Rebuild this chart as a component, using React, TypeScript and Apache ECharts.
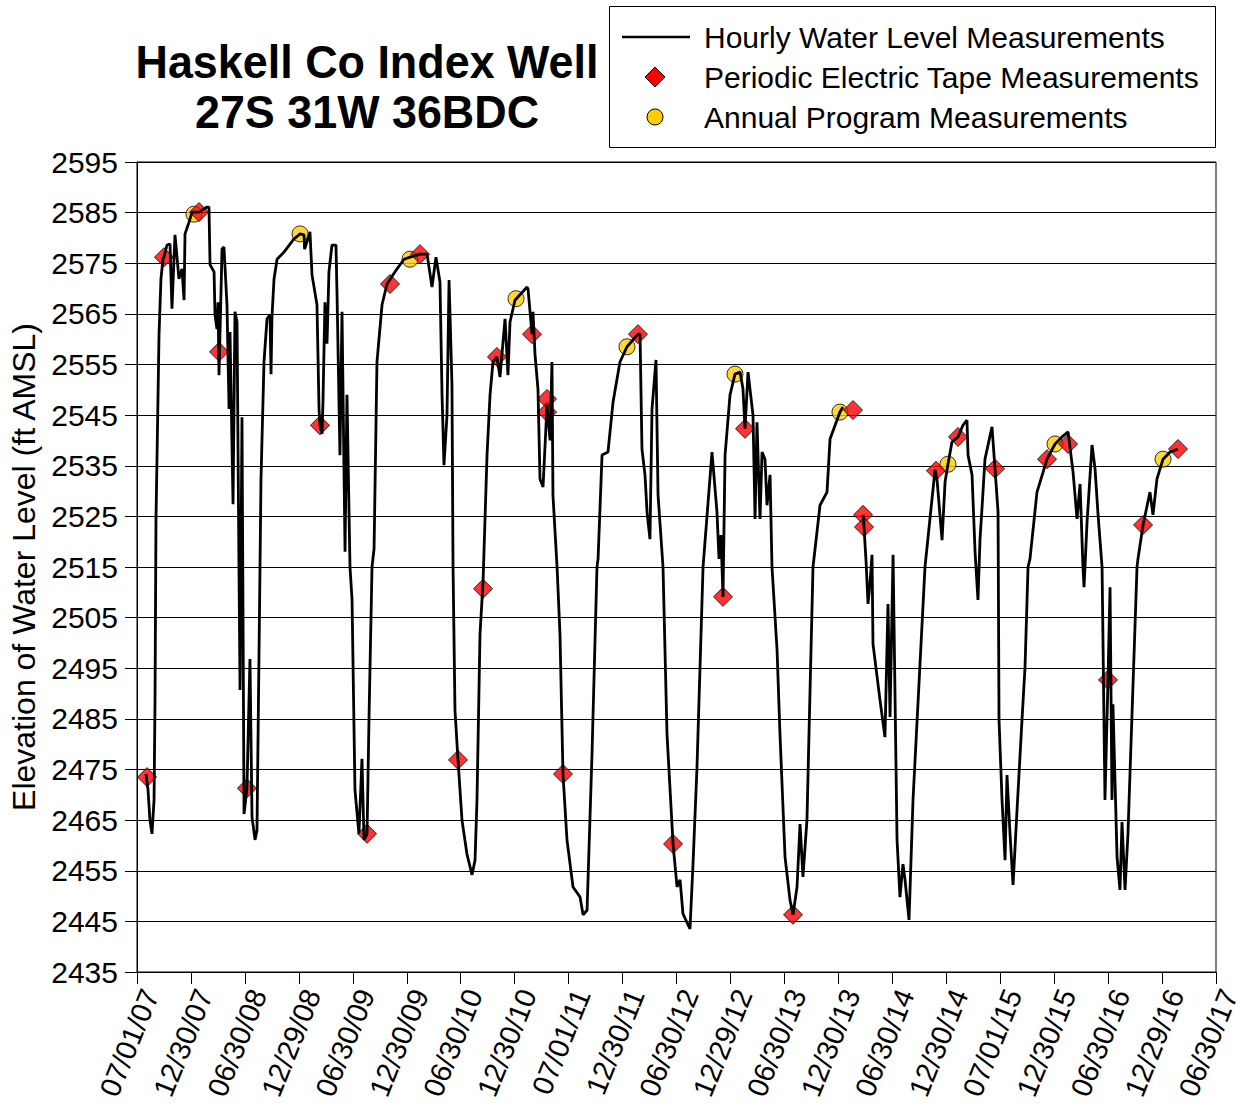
import React, { useEffect, useRef } from "react";
import * as echarts from "echarts";

// x values are years elapsed since 07/01/2007
const xTickLabels = [
  "07/01/07", "12/30/07", "06/30/08", "12/29/08", "06/30/09", "12/30/09", "06/30/10",
  "12/30/10", "07/01/11", "12/30/11", "06/30/12", "12/29/12", "06/30/13", "12/30/13",
  "06/30/14", "12/30/14", "07/01/15", "12/30/15", "06/30/16", "12/29/16", "06/30/17",
];

const hourlyX = [
  0.083, 0.102, 0.12, 0.139, 0.158, 0.167, 0.176, 0.195, 0.204, 0.222, 0.241, 0.25, 0.278, 0.306, 0.324,
  0.352, 0.389, 0.417, 0.436, 0.445, 0.482, 0.51, 0.575, 0.649, 0.667, 0.677, 0.714, 0.723, 0.741, 0.751,
  0.76, 0.788, 0.806, 0.834, 0.853, 0.862, 0.89, 0.908, 0.927, 0.945, 0.955, 0.973, 0.992, 1.019, 1.047,
  1.066, 1.094, 1.112, 1.14, 1.149, 1.177, 1.205, 1.233, 1.242, 1.251, 1.27, 1.298, 1.362, 1.455, 1.511,
  1.548, 1.553, 1.566, 1.603, 1.622, 1.668, 1.687, 1.696, 1.715, 1.724, 1.742, 1.761, 1.779, 1.807, 1.844,
  1.854, 1.881, 1.9, 1.928, 1.946, 1.974, 1.993, 2.02, 2.057, 2.085, 2.104, 2.132, 2.15, 2.178, 2.197,
  2.224, 2.271, 2.317, 2.41, 2.475, 2.53, 2.623, 2.688, 2.734, 2.771, 2.808, 2.827, 2.845, 2.873, 2.892,
  2.919, 2.929, 2.947, 2.975, 3.012, 3.058, 3.105, 3.133, 3.151, 3.179, 3.207, 3.244, 3.272, 3.299, 3.336,
  3.364, 3.411, 3.438, 3.457, 3.503, 3.615, 3.624, 3.661, 3.67, 3.689, 3.716, 3.735, 3.763, 3.8, 3.828,
  3.846, 3.855, 3.893, 3.92, 3.948, 3.985, 4.041, 4.106, 4.134, 4.171, 4.217, 4.263, 4.273, 4.31, 4.365,
  4.412, 4.476, 4.541, 4.643, 4.662, 4.68, 4.708, 4.727, 4.754, 4.773, 4.81, 4.829, 4.875, 4.912, 4.968,
  5.005, 5.033, 5.06, 5.125, 5.153, 5.19, 5.246, 5.329, 5.375, 5.394, 5.412, 5.431, 5.45, 5.496, 5.542,
  5.589, 5.616, 5.635, 5.663, 5.709, 5.728, 5.746, 5.774, 5.793, 5.82, 5.839, 5.867, 5.885, 5.932, 5.959,
  6.006, 6.052, 6.08, 6.117, 6.145, 6.172, 6.209, 6.265, 6.33, 6.395, 6.423, 6.515, 6.543, 6.64, 6.729,
  6.738, 6.757, 6.775, 6.794, 6.812, 6.821, 6.886, 6.932, 6.96, 6.979, 7.007, 7.044, 7.071, 7.099, 7.118,
  7.155, 7.192, 7.303, 7.349, 7.396, 7.414, 7.461, 7.489, 7.516, 7.553, 7.609, 7.655, 7.692, 7.702, 7.739,
  7.767, 7.794, 7.813, 7.831, 7.859, 7.924, 7.952, 7.98, 7.989, 8.017, 8.045, 8.063, 8.091, 8.119, 8.156,
  8.202, 8.23, 8.258, 8.276, 8.341, 8.434, 8.508, 8.573, 8.629, 8.675, 8.712, 8.74, 8.767, 8.777, 8.805,
  8.851, 8.879, 8.907, 8.944, 8.953, 8.971, 8.999, 9.018, 9.036, 9.045, 9.083, 9.11, 9.129, 9.157, 9.184,
  9.268, 9.277, 9.324, 9.388, 9.416, 9.453, 9.509, 9.574, 9.648,
];

const hourlyLevel: (number | null)[] = [
  2474.1, 2471.0, 2465.0, 2462.3, 2469.0, 2488.7, 2524.5, 2549.0, 2560.8, 2571.9, 2575.8, 2576.2, 2578.6, 2578.8, 2566.0,
  2580.6, 2571.9, 2573.9, 2567.7, 2580.8, 2583.1, 2585.1, 2585.1, 2586.1, 2586.1, 2574.7, 2573.3, 2564.8, 2562.0, 2567.3,
  2552.9, 2577.8, 2578.2, 2566.8, 2546.2, 2561.4, 2527.4, 2565.4, 2563.4, 2515.0, 2490.7, 2544.6, 2466.2, 2471.3, 2496.8,
  2465.6, 2461.1, 2463.0, 2515.0, 2532.2, 2555.5, 2564.0, 2564.8, 2553.1, 2564.4, 2571.9, 2575.8, 2577.2, 2579.8, 2580.8,
  2580.6, 2577.8, 2578.6, 2581.2, 2572.7, 2566.8, 2546.2, 2543.0, 2541.3, 2548.0, 2567.3, 2559.1, 2573.3, 2578.6, 2578.6,
  2568.7, 2537.1, 2565.4, 2518.0, 2549.0, 2515.0, 2508.5, 2471.0, 2462.3, 2477.1, 2461.1, 2462.3, 2484.8, 2515.0, 2518.6,
  2555.5, 2566.8, 2570.9, 2573.9, 2575.8, 2576.2, 2576.8, 2576.8, 2570.3, 2576.2, 2571.3, 2549.0, 2535.1, 2545.0, 2571.7,
  2551.0, 2515.0, 2486.7, 2476.9, 2465.0, 2458.3, 2454.2, 2457.1, 2469.0, 2501.8, 2512.0, 2537.1, 2549.0, 2555.5, 2556.5,
  2552.5, 2564.0, 2552.9, 2563.4, 2567.7, 2570.3, 2569.9, 2561.0, 2565.4, 2556.9, 2550.2, 2532.4, 2530.8, 2547.0, 2540.0,
  2555.5, 2529.2, 2515.0, 2501.8, 2474.1, 2461.1, 2451.8, 2449.8, 2446.3, 2447.2, 2478.1, 2515.0, 2516.6, 2537.1, 2537.7,
  2547.6, 2555.5, 2558.5, 2561.0, 2561.0, 2538.3, 2533.2, 2525.9, 2520.5, 2546.2, 2555.9, 2529.2, 2515.0, 2482.0, 2460.3,
  2451.8, 2453.2, 2446.5, 2443.5, 2456.3, 2475.5, 2515.0, 2537.7, 2525.9, 2516.6, 2521.3, 2509.1, 2537.1, 2549.0, 2553.1,
  2553.5, 2550.2, 2542.3, 2553.5, 2545.0, 2524.5, 2543.6, 2524.5, 2537.7, 2536.3, 2527.2, 2533.2, 2515.0, 2498.6, 2482.0,
  2457.7, 2449.2, 2446.3, 2451.8, 2464.2, 2453.8, 2465.0, 2515.0, 2527.2, 2529.8, 2540.3, 2545.6, 2546.6, null, 2525.3,
  2522.9, 2516.0, 2507.7, 2512.0, 2517.4, 2499.8, 2488.7, 2481.4, 2507.7, 2485.4, 2517.4, 2461.1, 2449.8, 2456.3, 2453.2,
  2445.3, 2469.0, 2515.0, 2524.5, 2534.2, 2532.4, 2520.3, 2531.8, 2535.3, 2539.7, 2540.7, 2543.0, 2544.0, 2537.1, 2533.2,
  2518.0, 2508.5, 2520.5, 2526.5, 2536.3, 2542.7, 2534.4, 2525.9, 2484.8, 2469.0, 2457.1, 2473.9, 2462.3, 2452.2, 2467.0,
  2484.8, 2495.2, 2515.0, 2516.6, 2529.8, 2536.3, 2539.3, 2540.7, 2541.7, 2533.8, 2524.5, 2531.4, 2515.0, 2511.0, 2523.9,
  2539.1, 2534.4, 2525.3, 2515.0, 2499.8, 2469.0, 2492.7, 2511.0, 2469.0, 2487.9, 2457.7, 2451.2, 2464.6, 2451.2, 2462.3,
  2515.0, 2516.6, 2523.3, 2529.8, 2525.3, 2532.4, 2536.3, 2537.7, 2538.3,
];

const tapeX = [
  0.093, 0.25, 0.575, 0.76, 1.019, 1.696, 2.132, 2.345, 2.623, 2.975, 3.207, 3.336, 3.661, 3.8, 3.8, 3.948,
  4.643, 4.968, 5.431, 5.635, 6.08, 6.636, 6.729, 6.738, 7.405, 7.609, 7.952, 8.434, 8.629, 8.999, 9.324, 9.648,
];
const tapeLevel = [
  2473.5, 2576.2, 2585.1, 2557.5, 2471.3, 2543.0, 2462.3, 2570.9, 2576.8, 2476.9, 2510.7, 2556.5, 2561.0, 2548.2, 2545.6, 2474.1,
  2561.0, 2460.3, 2509.1, 2542.3, 2446.3, 2546.0, 2525.3, 2522.9, 2534.0, 2540.7, 2534.4, 2536.3, 2539.3, 2492.7, 2523.3, 2538.3,
];

const annualX = [0.528, 1.511, 2.53, 3.513, 4.541, 5.542, 6.515, 7.516, 8.508, 9.509];
const annualLevel = [2584.7, 2580.8, 2575.8, 2568.0, 2558.5, 2553.1, 2545.6, 2535.3, 2539.3, 2536.3];

const seriesNames = [
  "Hourly Water Level Measurements",
  "Periodic Electric Tape Measurements",
  "Annual Program Measurements",
];

const titleLines = ["Haskell Co Index Well", "27S 31W 36BDC"];

const FONT = "'Liberation Sans', Arial, sans-serif";

export default function App() {
  const ref = useRef<HTMLDivElement>(null);

  useEffect(() => {
    if (!ref.current) return;
    const chart = echarts.init(ref.current, undefined, { renderer: "svg" });

    const hourlyData = hourlyX.map((x, i) => [x, hourlyLevel[i]]);
    const tapeData = tapeX.map((x, i) => [x, tapeLevel[i]]);
    const annualData = annualX.map((x, i) => [x, annualLevel[i]]);

    const legendX = 655;
    const rows = [37, 77, 117];

    chart.setOption({
      animation: false,
      backgroundColor: "#fff",
      textStyle: { fontFamily: FONT },
      grid: {
        left: 137,
        right: 36,
        top: 162,
        bottom: 134,
        show: true,
        borderColor: "#000",
        borderWidth: 1,
        containLabel: false,
        outerBoundsMode: "none",
      },
      xAxis: {
        type: "value",
        min: 0,
        max: 10,
        interval: 0.5,
        axisLine: { show: true, lineStyle: { color: "#000", width: 1 } },
        axisTick: { show: true, inside: false, length: 12, lineStyle: { color: "#000" } },
        splitLine: { show: false },
        axisLabel: {
          rotate: 68,
          margin: 13,
          verticalAlign: "top",
          align: "right",
          color: "#000",
          fontSize: 29,
          fontFamily: FONT,
          formatter: (v: number) => xTickLabels[Math.round(v / 0.5)] ?? "",
        },
      },
      yAxis: {
        type: "value",
        min: 2435,
        max: 2595,
        interval: 10,
        name: "Elevation of Water Level (ft AMSL)",
        nameLocation: "middle",
        nameRotate: 90,
        nameGap: 96,
        nameTextStyle: { fontSize: 32, color: "#000", fontFamily: FONT },
        axisLine: { show: true, lineStyle: { color: "#000", width: 1 } },
        axisTick: { show: true, inside: false, length: 12, lineStyle: { color: "#000" } },
        splitLine: { show: true, lineStyle: { color: "#000", width: 1 } },
        axisLabel: {
          color: "#000",
          fontSize: 30,
          margin: 19,
          fontFamily: FONT,
          formatter: (v: number) => String(Math.round(v)),
        },
      },
      series: [
        {
          name: seriesNames[2],
          type: "scatter",
          data: annualData,
          symbol: "circle",
          symbolSize: 16,
          itemStyle: { color: "#FFCC00", borderColor: "#000", borderWidth: 1 },
          z: 2,
        },
        {
          name: seriesNames[1],
          type: "scatter",
          data: tapeData,
          symbol: "diamond",
          symbolSize: [19, 19],
          itemStyle: { color: "#FF0000", borderColor: "#000", borderWidth: 1 },
          z: 3,
        },
        {
          name: seriesNames[0],
          type: "line",
          data: hourlyData,
          showSymbol: false,
          symbol: "none",
          connectNulls: false,
          lineStyle: { color: "#000", width: 2.8 },
          z: 4,
        },
      ],
      graphic: [
        ...titleLines.map((t, i) => ({
          type: "text",
          x: 367,
          y: 62 + i * 50,
          scaleX: 0.955,
          style: {
            text: t,
            font: `bold 47px ${FONT}`,
            fill: "#000",
            textAlign: "center",
            textVerticalAlign: "middle",
          },
        })),
        {
          type: "rect",
          shape: { x: 609.5, y: 6.5, width: 606, height: 141 },
          style: { fill: "#fff", stroke: "#000", lineWidth: 1 },
          z: 10,
        },
        {
          type: "line",
          shape: { x1: 622, y1: rows[0], x2: 690, y2: rows[0] },
          style: { stroke: "#000", lineWidth: 2.5 },
          z: 11,
        },
        {
          type: "polygon",
          shape: {
            points: [
              [legendX, rows[1] - 10],
              [legendX + 10, rows[1]],
              [legendX, rows[1] + 10],
              [legendX - 10, rows[1]],
            ],
          },
          style: { fill: "#FF0000", stroke: "#000", lineWidth: 1 },
          z: 11,
        },
        {
          type: "circle",
          shape: { cx: legendX, cy: rows[2], r: 8 },
          style: { fill: "#FFCC00", stroke: "#000", lineWidth: 1 },
          z: 11,
        },
        ...seriesNames.map((name, i) => ({
          type: "text",
          x: 704,
          y: rows[i],
          z: 11,
          style: {
            text: name,
            font: `30px ${FONT}`,
            fill: "#000",
            textAlign: "left",
            textVerticalAlign: "middle",
          },
        })),
      ],
    });

    return () => chart.dispose();
  }, []);

  return (
    <div
      ref={ref}
      style={{ position: "absolute", left: 0, top: 0, width: 1252, height: 1106 }}
    />
  );
}
